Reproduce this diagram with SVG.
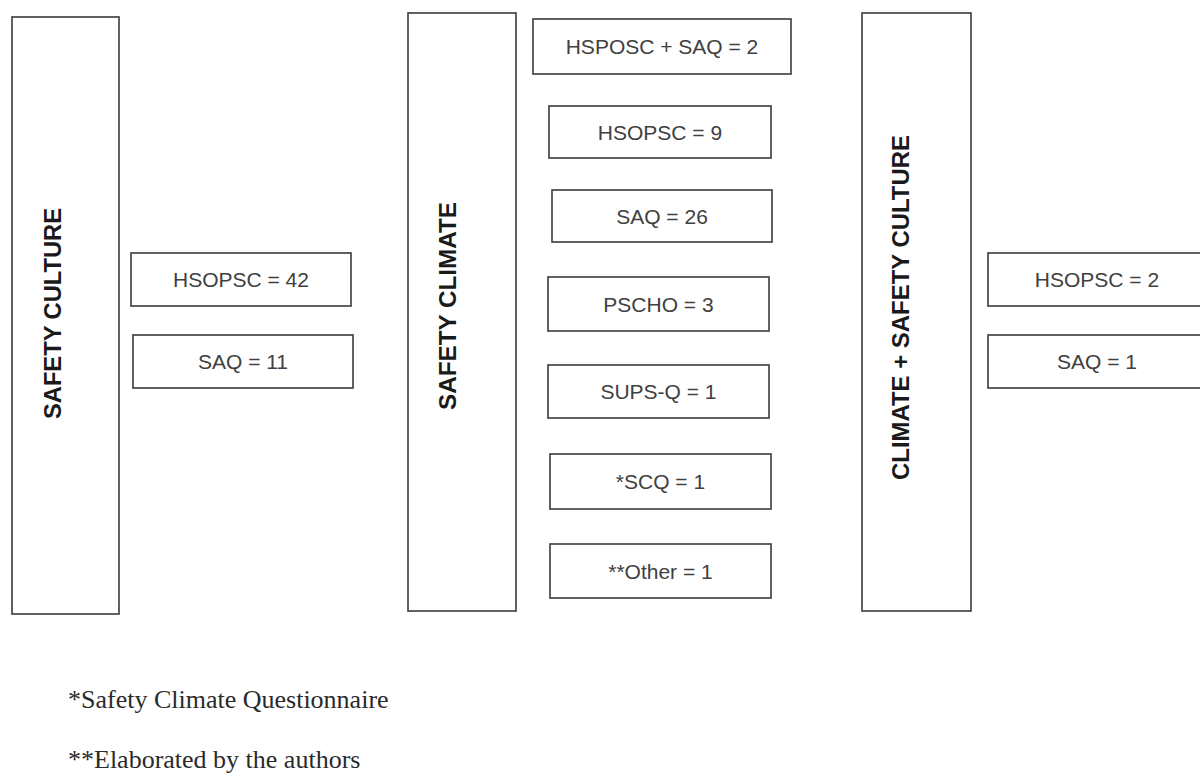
<svg xmlns="http://www.w3.org/2000/svg" width="1200" height="778" viewBox="0 0 1200 778">
  <style>
    .box { fill: #ffffff; stroke: #3a3a3a; stroke-width: 1.6; }
    .lbl { font-family: "Liberation Sans", Arial, sans-serif; font-size: 21px; fill: #404040; text-anchor: middle; }
    .title { font-family: "Liberation Sans", Arial, sans-serif; font-size: 24px; font-weight: bold; fill: #1a1a1a; text-anchor: middle; }
    .note { font-family: "Liberation Serif", "Times New Roman", serif; font-size: 26px; fill: #2a2a2a; }
  </style>
  <rect width="1200" height="778" fill="#ffffff"/>

  <g id="safety-culture">
    <rect class="box" x="12" y="17" width="107" height="597"/>
    <text class="title" transform="translate(61,313.5) rotate(-90)" x="0" y="0" textLength="211" lengthAdjust="spacingAndGlyphs">SAFETY CULTURE</text>
  </g>
  <g id="sc-hsopsc">
    <rect class="box" x="131" y="253" width="220" height="53"/>
    <text class="lbl" x="241" y="287">HSOPSC = 42</text>
  </g>
  <g id="sc-saq">
    <rect class="box" x="133" y="335" width="220" height="53"/>
    <text class="lbl" x="243" y="369">SAQ = 11</text>
  </g>

  <g id="safety-climate">
    <rect class="box" x="408" y="13" width="108" height="598"/>
    <text class="title" transform="translate(456,306) rotate(-90)" x="0" y="0" textLength="208" lengthAdjust="spacingAndGlyphs">SAFETY CLIMATE</text>
  </g>
  <g id="cl-hsposc-saq">
    <rect class="box" x="533" y="19" width="258" height="55"/>
    <text class="lbl" x="662" y="54">HSPOSC + SAQ = 2</text>
  </g>
  <g id="cl-hsopsc">
    <rect class="box" x="549" y="106" width="222" height="52"/>
    <text class="lbl" x="660" y="140">HSOPSC = 9</text>
  </g>
  <g id="cl-saq">
    <rect class="box" x="552" y="190" width="220" height="52"/>
    <text class="lbl" x="662" y="224">SAQ = 26</text>
  </g>
  <g id="cl-pscho">
    <rect class="box" x="548" y="277" width="221" height="54"/>
    <text class="lbl" x="658.5" y="312">PSCHO = 3</text>
  </g>
  <g id="cl-supsq">
    <rect class="box" x="548" y="365" width="221" height="53"/>
    <text class="lbl" x="658.5" y="399">SUPS-Q = 1</text>
  </g>
  <g id="cl-scq">
    <rect class="box" x="550" y="454" width="221" height="55"/>
    <text class="lbl" x="660.5" y="489">*SCQ = 1</text>
  </g>
  <g id="cl-other">
    <rect class="box" x="550" y="544" width="221" height="54"/>
    <text class="lbl" x="660.5" y="579">**Other = 1</text>
  </g>

  <g id="climate-safety-culture">
    <rect class="box" x="862" y="13" width="109" height="598"/>
    <text class="title" transform="translate(909,307.5) rotate(-90)" x="0" y="0" textLength="345" lengthAdjust="spacingAndGlyphs">CLIMATE + SAFETY CULTURE</text>
  </g>
  <g id="csc-hsopsc">
    <rect class="box" x="988" y="253" width="218" height="53"/>
    <text class="lbl" x="1097" y="287">HSOPSC = 2</text>
  </g>
  <g id="csc-saq">
    <rect class="box" x="988" y="335" width="218" height="53"/>
    <text class="lbl" x="1097" y="369">SAQ = 1</text>
  </g>

  <g id="connectors"/>

  <g id="footnotes">
    <text class="note" x="68" y="708">*Safety Climate Questionnaire</text>
    <text class="note" x="68" y="768">**Elaborated by the authors</text>
  </g>
</svg>
